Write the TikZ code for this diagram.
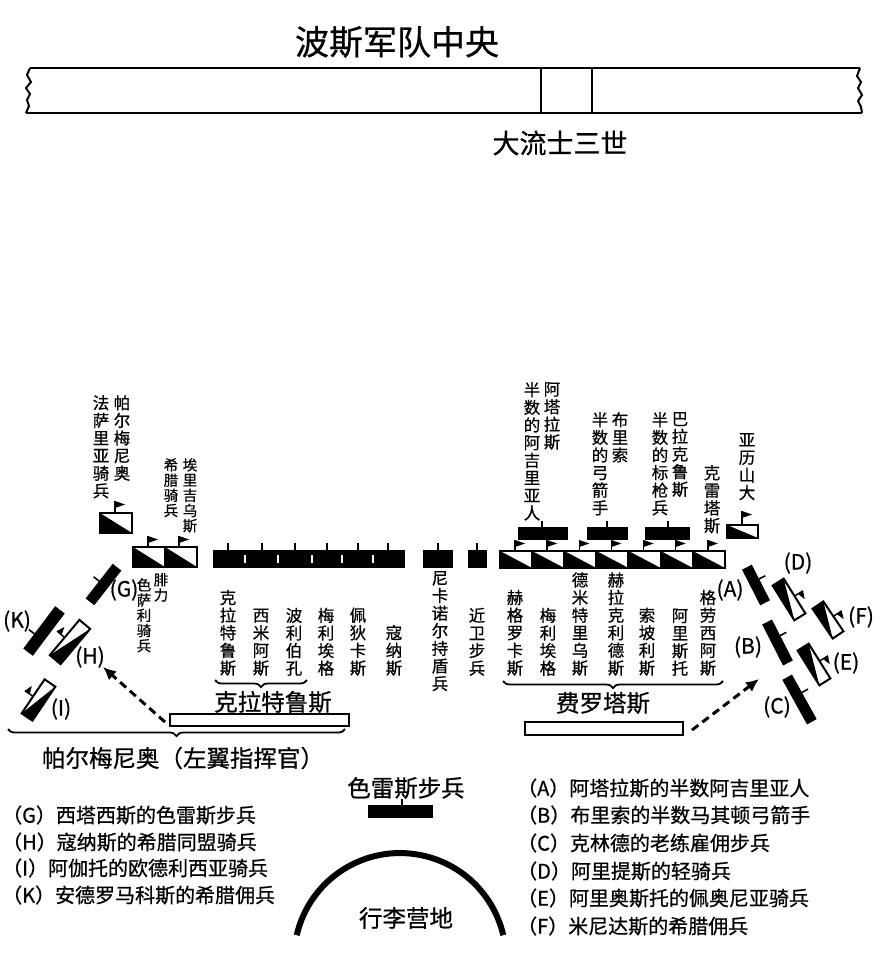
\documentclass[tikz,border=0pt]{standalone}
\usepackage{fontspec}
\setmainfont{Noto Sans CJK SC}[FakeBold=0.6]
\usetikzlibrary{arrows.meta,decorations.pathreplacing}
\newcommand{\cavcell}[4]{%
  \fill (#1,#2) -- (#3,#4) -- (#1,#4) -- cycle;
  \draw[line width=2.2] (#1,#2) rectangle (#3,#4);}
\newcommand{\flagat}[3]{%
  \draw[line width=1.4] (#1,#2) -- (#1,#2-#3);
  \fill (#1,#2-#3) -- (#1+10,#2-#3+3.5) -- (#1,#2-#3+7) -- cycle;}
\newcommand{\infbar}[6]{%
  \begin{scope}[shift={(#1,#2)},rotate=#3]
    \fill (-#4/2,-#5/2) rectangle (#4/2,#5/2);
    \draw[line width=1.6] (#6,-#5/2) -- (#6,-#5/2-7);
  \end{scope}}
\newcommand{\cavrot}[5]{%
  \begin{scope}[shift={(#1,#2)},rotate=#3]
    \fill (-#4/2,-#5/2) -- (#4/2,#5/2) -- (-#4/2,#5/2) -- cycle;
    \draw[line width=2] (-#4/2,-#5/2) rectangle (#4/2,#5/2);
    \draw[line width=1.4] (0,-#5/2) -- (0,-#5/2-10);
    \fill (0,-#5/2-10) -- (8,-#5/2-7) -- (0,-#5/2-4) -- cycle;
  \end{scope}}
\begin{document}
\begin{tikzpicture}[x=1pt,y=-1pt,
  every node/.style={inner sep=0pt},
  vt/.style={font=\fontsize{16.5}{17.6}\selectfont,align=center},
  vts/.style={font=\fontsize{14.5}{15.2}\selectfont,align=center},
  lbl/.style={font=\fontsize{21}{21}\selectfont},
  big/.style={font=\fontsize{23.5}{23.5}\selectfont},
  leg/.style={font=\fontsize{20}{20}\selectfont,anchor=west},
  brc/.style={line width=1.8,decorate,decoration={brace,amplitude=7pt}},
  dasharrow/.style={line width=3,dash pattern=on 8pt off 5pt,-{Latex[length=13pt,width=12pt]}}]
\useasboundingbox (0,0) rectangle (879,956);
\fill[white] (0,0) rectangle (879,956);

% ---- Persian centre bar
\node[font=\fontsize{34}{34}\selectfont] (title) at (397,42) {波斯军队中央};
\draw[line width=2.4] (30,68) -- (860,68);
\draw[line width=2.4] (26,113) -- (862,113);
\draw[line width=2] (30,68) -- (27,75) -- (31,82) -- (26,88) -- (30,94) -- (27,100) -- (29,106) -- (26,113);
\draw[line width=2] (860,68) -- (857,76) -- (861,82) -- (858,88) -- (862,95) -- (858,101) -- (861,107) -- (862,113);
\draw[line width=2] (541,68) -- (541,113) (592,68) -- (592,113);
\node[font=\fontsize{27}{27}\selectfont] (darius) at (560,143) {大流士三世};

% ---- left wing top labels
\node[vt,anchor=north] (parm1) at (122,395) {帕\\尔\\梅\\尼\\奥};
\node[vt,anchor=north] (parm2) at (101,395) {法\\萨\\里\\亚\\骑\\兵};
\node[vts,anchor=north] (eri1) at (190,458) {埃\\里\\吉\\乌\\斯};
\node[vts,anchor=north] (eri2) at (171,458) {希\\腊\\骑\\兵};
\node[vts,anchor=north] (phil1) at (161,573) {腓\\力};
\node[vts,anchor=north] (phil2) at (144,578) {色\\萨\\利\\骑\\兵};

% Parmenion cavalry
\cavcell{100}{513}{132}{533}
\flagat{115}{513}{12}
% Erigyius cavalry
\cavcell{133}{547}{165}{567}
\cavcell{165}{547}{197}{567}
\flagat{148}{547}{11}
\flagat{179}{547}{11}

% ---- Craterus infantry line
\fill (213,550) rectangle (405,568);
\foreach \t in {228,262,295,327,358,388} {\draw[line width=1.5] (\t,550) -- (\t,543);}
\foreach \s in {245,278,312,342,373} {\draw[white,line width=1.3] (\s,555) -- (\s,563);}
\fill (423,550) rectangle (453,568);
\draw[line width=1.5] (438,550) -- (438,543);
\fill (468,550) rectangle (487,568);
\draw[line width=1.5] (477,550) -- (477,543);

\node[vt,anchor=south] (cr1) at (228,676) {克\\拉\\特\\鲁\\斯};
\node[vt,anchor=south] (cr2) at (261,676) {西\\米\\阿\\斯};
\node[vt,anchor=south] (cr3) at (294,676) {波\\利\\伯\\孔};
\node[vt,anchor=south] (cr4) at (326,676) {梅\\利\\埃\\格};
\node[vt,anchor=south] (cr5) at (358,676) {佩\\狄\\卡\\斯};
\node[vt,anchor=south] (cr6) at (394,676) {寇\\纳\\斯};
\node[vt,anchor=north] (nic) at (440,571) {尼\\卡\\诺\\尔\\持\\盾\\兵};
\node[vt,anchor=south] (guard) at (477,676) {近\\卫\\步\\兵};
\draw[brc] (307,680) -- (215,680);
\node[big] (crat) at (273,702) {克拉特鲁斯};
\draw[line width=1.6] (170,714) rectangle (349,726);

% ---- right wing: infantry above cavalry
\fill (518,527) rectangle (568,540);
\fill (587,527) rectangle (628,540);
\fill (645,527) rectangle (690,540);
\foreach \t in {542,607,668} {\draw[line width=1.5] (\t,527) -- (\t,521);}
\node[vt,anchor=north] (att1) at (552,382) {阿\\塔\\拉\\斯};
\node[vt,anchor=north] (att2) at (532,382) {半\\数\\的\\阿\\吉\\里\\亚\\人};
\node[vt,anchor=north] (bri1) at (620,412) {布\\里\\索};
\node[vt,anchor=north] (bri2) at (600,412) {半\\数\\的\\弓\\箭\\手};
\node[vt,anchor=north] (bal1) at (680,412) {巴\\拉\\克\\鲁\\斯};
\node[vt,anchor=north] (bal2) at (660,412) {半\\数\\的\\标\\枪\\兵};
\node[vt,anchor=north] (cle) at (712,465) {克\\雷\\塔\\斯};
\node[vt,anchor=north] (alex) at (747,433) {亚\\历\\山\\大};

% Companion cavalry
\foreach \i in {0,...,6} {
  \pgfmathsetmacro{\xa}{500+32.14*\i}
  \pgfmathsetmacro{\xb}{500+32.14*(\i+1)}
  \pgfmathsetmacro{\xf}{500+32.14*\i+15}
  \cavcell{\xa}{551}{\xb}{568}
  \flagat{\xf}{551}{11}
}
% Alexander
\cavcell{727}{525}{758}{538}
\flagat{742}{525}{14}

\node[vt,anchor=south] (ph1) at (515,676) {赫\\格\\罗\\卡\\斯};
\node[vt,anchor=south] (ph2) at (548,676) {梅\\利\\埃\\格};
\node[vt,anchor=south] (ph3) at (580,676) {德\\米\\特\\里\\乌\\斯};
\node[vt,anchor=south] (ph4) at (616,676) {赫\\拉\\克\\利\\德\\斯};
\node[vt,anchor=south] (ph5) at (647,676) {索\\坡\\利\\斯};
\node[vt,anchor=south] (ph6) at (680,676) {阿\\里\\斯\\托};
\node[vt,anchor=south] (ph7) at (708,676) {格\\劳\\西\\阿\\斯};
\draw[brc] (723,681) -- (503,681);
\node[big] (phil) at (603,703) {费罗塔斯};
\draw[line width=1.6] (525,722) rectangle (683,735);

% ---- left flank units
\infbar{103.5}{584.5}{52}{44}{11}{0}
\infbar{44}{631}{53}{53}{12}{-8}
\cavrot{70}{642}{50}{46}{14}
\cavrot{38.5}{700}{56}{41}{13}
\node[lbl] (G) at (124,590) {(G)};
\node[lbl] (K) at (17,621) {(K)};
\node[lbl] (H) at (90,657) {(H)};
\node[lbl] (I) at (61,709) {(I)};
\draw[dasharrow] (165,722) -- (103,667);

% ---- right flank units
\infbar{756}{585}{-63}{40}{11}{-4}
\infbar{777.5}{642.5}{-63}{46}{11}{-5}
\infbar{799.5}{699.5}{-61}{51}{11}{-5}
\cavrot{789}{599.5}{-58}{41}{13}
\cavrot{828}{620}{-56}{36}{13}
\cavrot{814}{664.5}{-58}{41}{13}
\node[lbl] (A) at (730,590) {(A)};
\node[lbl] (B) at (748,647) {(B)};
\node[lbl] (C) at (777,707) {(C)};
\node[lbl] (D) at (798,563) {(D)};
\node[lbl] (E) at (846,663) {(E)};
\node[lbl] (F) at (861,617) {(F)};
\draw[dasharrow] (692,730) -- (759,679);

% ---- left wing brace
\draw[brc] (345,729) -- (8,729);
\node[big] (parmcmd) at (183,758) {帕尔梅尼奥（左翼指挥官）};

% ---- Thracian infantry and camp
\node[big] (thrace) at (406,788) {色雷斯步兵};
\fill (368,805) rectangle (433,818);
\draw[line width=1.5] (402,805) -- (402,799);
\draw[line width=6] (296.7,935.2) arc[start angle=167,end angle=13,radius=106pt];
\node[big] (camp) at (406,918) {行李营地};

% ---- legends
\node[leg] (lg) at (2,815) {（G）西塔西斯的色雷斯步兵};
\node[leg] (lh) at (2,842) {（H）寇纳斯的希腊同盟骑兵};
\node[leg] (li) at (2,868) {（I）阿伽托的欧德利西亚骑兵};
\node[leg] (lk) at (2,895) {（K）安德罗马科斯的希腊佣兵};
\node[leg] (la) at (517,788) {（A）阿塔拉斯的半数阿吉里亚人};
\node[leg] (lb) at (517,815) {（B）布里索的半数马其顿弓箭手};
\node[leg] (lc) at (517,843) {（C）克林德的老练雇佣步兵};
\node[leg] (ld) at (517,871) {（D）阿里提斯的轻骑兵};
\node[leg] (le) at (517,898) {（E）阿里奥斯托的佩奥尼亚骑兵};
\node[leg] (lf) at (517,926) {（F）米尼达斯的希腊佣兵};
\end{tikzpicture}
\end{document}
